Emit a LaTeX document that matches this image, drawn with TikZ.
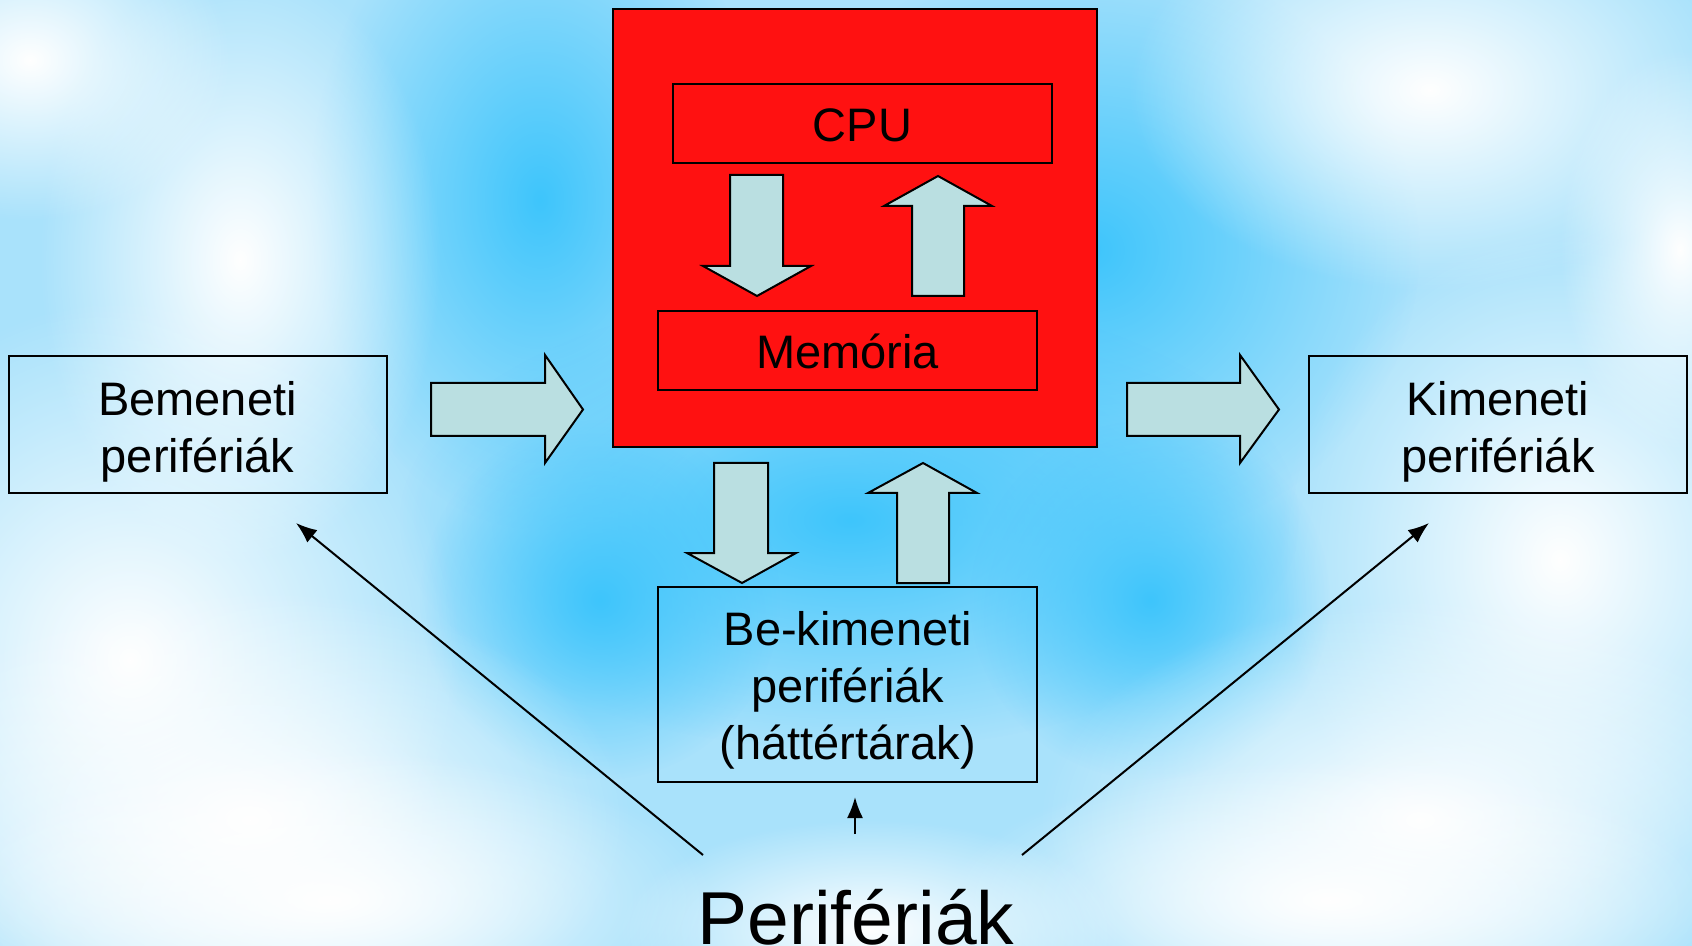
\documentclass[tikz,border=0pt]{standalone}
\usepackage{fontspec}
\setmainfont{Liberation Sans}
\usetikzlibrary{arrows.meta,fadings}
\definecolor{boxred}{HTML}{FF1111}
\definecolor{arrfill}{HTML}{BADFE1}
\definecolor{bgbase}{HTML}{A9E2FB}
\definecolor{deepblue}{HTML}{3EC5FC}
\tikzfading[name=softblob, inner color=transparent!0, outer color=transparent!100]
\tikzset{
  framebox/.style={draw=black, line width=1pt, inner sep=0pt},
  redbox/.style={framebox, fill=boxred},
  label text/.style={inner sep=0pt, align=center, font=\fontsize{23.5}{28.6}\selectfont},
  blockarr/.style={draw=black, line width=1pt, fill=arrfill, line join=miter},
  thinarr/.style={draw=black, line width=1pt, -{Latex[length=10.5pt,width=8pt]}},
  blob/.style={path fading=softblob},
}
\begin{document}
\begin{tikzpicture}[x=0.5pt,y=-0.5pt]
\useasboundingbox (0,0) rectangle (1692,946);
% ---- background ----
\fill[bgbase] (0,0) rectangle (1692,946);
\begin{scope}
\clip (0,0) rectangle (1692,946);
\fill[deepblue, blob] (1090,250) ellipse (330 and 300);
\fill[deepblue, blob] (540,200) ellipse (230 and 330);
\fill[deepblue, blob] (850,520) ellipse (450 and 230);
\fill[deepblue, blob] (600,600) ellipse (180 and 180);
\fill[deepblue, blob] (1150,600) ellipse (180 and 180);
\fill[white, blob] (240,260) ellipse (200 and 300);
\fill[white, blob] (130,660) ellipse (330 and 360);
\fill[white, blob] (250,820) ellipse (380 and 230);
\fill[white, blob] (30,60) ellipse (200 and 160);
\fill[white, blob] (1430,90) ellipse (300 and 200);
\fill[white, blob] (1560,560) ellipse (280 and 330);
\fill[white, blob] (1420,820) ellipse (380 and 220);
\fill[white, blob] (330,900) ellipse (380 and 150);
\fill[white, blob] (1330,900) ellipse (380 and 140);
\fill[white, blob] (870,930) ellipse (250 and 110);
\fill[white, blob] (1680,250) ellipse (120 and 200);
\end{scope}
% ---- boxes ----
\node[redbox, minimum width=242pt, minimum height=219pt] (sys) at (855,228) {};
\node[redbox, minimum width=189.5pt, minimum height=39.5pt] (cpu) at (862.5,123.5) {};
\node[redbox, minimum width=189.5pt, minimum height=39.5pt] (mem) at (847.5,350.5) {};
\node[framebox, minimum width=189pt, minimum height=68.5pt] (bem) at (197.5,424.5) {};
\node[framebox, minimum width=189pt, minimum height=68.5pt] (kim) at (1498,424.5) {};
\node[framebox, minimum width=189.5pt, minimum height=97.2pt] (beki) at (847.8,684.5) {};
% ---- texts ----
\node[label text] (cput) at ([yshift=-1pt]cpu.center) {CPU};
\node[label text] (memt) at ([yshift=-0.5pt]mem.center) {Memória};
\node[label text] (bemt) at ([yshift=-3.5pt]bem.center) {Bemeneti\\perifériák};
\node[label text] (kimt) at ([yshift=-3.5pt]kim.center) {Kimeneti\\perifériák};
\node[label text] (bekit) at ([yshift=-3pt]beki.center) {Be-kimeneti\\perifériák\\(háttértárak)};
\node[anchor=base, inner sep=0pt, font=\fontsize{37.5}{40}\selectfont] (peri) at (856,944) {Perifériák};
% ---- block arrows ----
% CPU -> Memoria
\draw[blockarr] (730,175) -- (783,175) -- (783,266) -- (811,266) -- (757,296)
  -- (703,266) -- (730,266) -- cycle;
% Memoria -> CPU
\draw[blockarr] (912,296) -- (964,296) -- (964,206) -- (992,206) -- (938,176)
  -- (884,206) -- (912,206) -- cycle;
% Bemeneti -> system
\draw[blockarr] (431,383) -- (545,383) -- (545,355) -- (583,409.5) -- (545,463)
  -- (545,436) -- (431,436) -- cycle;
% system -> Kimeneti
\draw[blockarr] (1127,383) -- (1240,383) -- (1240,355) -- (1279,409.5) -- (1240,463)
  -- (1240,436) -- (1127,436) -- cycle;
% system -> Be-ki
\draw[blockarr] (714,463) -- (768,463) -- (768,553) -- (796,553) -- (742,583)
  -- (687,553) -- (714,553) -- cycle;
% Be-ki -> system
\draw[blockarr] (897,583) -- (949,583) -- (949,493) -- (977,493) -- (923,463)
  -- (868,493) -- (897,493) -- cycle;
% ---- thin arrows ----
\coordinate (lstart) at (703,855);
\coordinate (ltip) at (296,523);
\coordinate (rstart) at (1022,855);
\coordinate (rtip) at (1429,523);
\coordinate (mstart) at (855,834);
\coordinate (mtip) at (855,797);
\draw[thinarr] (lstart) -- (ltip);
\draw[thinarr] (rstart) -- (rtip);
\draw[thinarr] (mstart) -- (mtip);
\end{tikzpicture}
\end{document}
